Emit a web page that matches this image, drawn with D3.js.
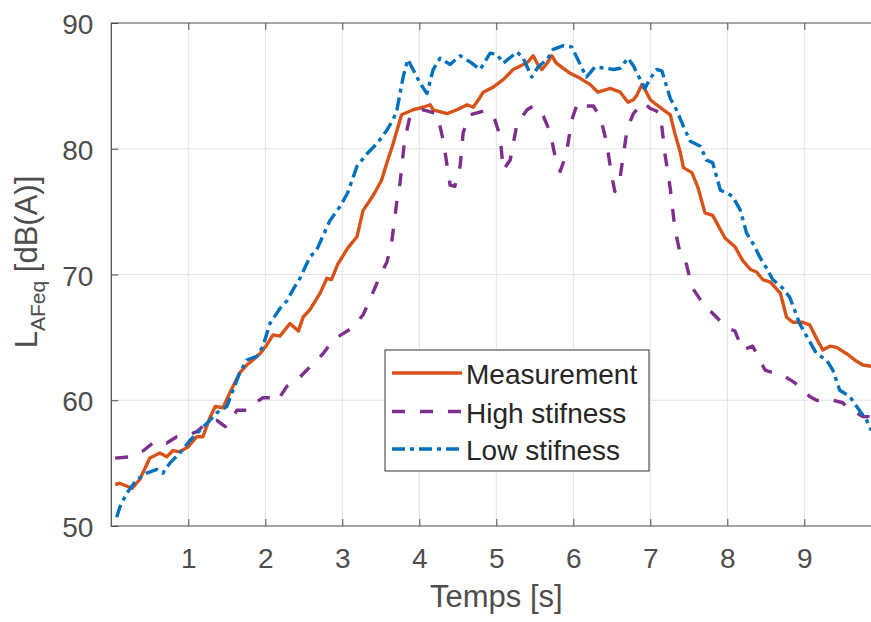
<!DOCTYPE html>
<html>
<head>
<meta charset="utf-8">
<script src="https://cdn.jsdelivr.net/npm/d3@7"></script>
<style>
  body { margin: 0; background: #fff; }
  svg { display: block; font-family: "Liberation Sans", Arial, Helvetica, sans-serif; }
</style>
</head>
<body>
<svg width="871" height="622"></svg>
<script>
// [time s, level dB(A)]
const measurement = [[0.05,53.3],[0.11,53.4],[0.27,53.0],[0.37,53.7],[0.50,55.4],[0.63,55.8],[0.72,55.5],[0.80,56.0],[0.89,55.9],[1.00,56.3],[1.11,57.1],[1.19,57.1],[1.28,58.6],[1.35,59.5],[1.45,59.4],[1.54,60.6],[1.67,62.2],[1.76,62.8],[1.84,63.2],[1.93,63.7],[2.02,64.4],[2.10,65.2],[2.19,65.1],[2.32,66.1],[2.43,65.5],[2.49,66.6],[2.58,67.2],[2.71,68.5],[2.80,69.7],[2.86,69.6],[2.94,70.8],[3.07,72.1],[3.19,73.0],[3.27,75.1],[3.36,75.9],[3.43,76.6],[3.51,77.5],[3.58,78.9],[3.65,80.2],[3.77,82.7],[3.92,83.1],[4.05,83.3],[4.14,83.5],[4.18,83.1],[4.36,82.8],[4.49,83.1],[4.62,83.5],[4.70,83.3],[4.79,84.1],[4.83,84.5],[4.96,84.9],[5.09,85.5],[5.22,86.3],[5.35,86.7],[5.41,86.9],[5.48,87.4],[5.53,86.8],[5.59,86.3],[5.66,86.8],[5.72,87.4],[5.78,86.8],[5.87,86.4],[5.96,86.0],[6.09,85.6],[6.22,85.1],[6.32,84.5],[6.48,84.8],[6.61,84.5],[6.71,83.7],[6.78,83.9],[6.82,84.2],[6.89,85.1],[6.95,84.5],[7.00,83.9],[7.08,83.5],[7.17,83.1],[7.26,82.7],[7.32,81.2],[7.39,79.7],[7.43,78.5],[7.54,78.1],[7.62,76.9],[7.71,74.9],[7.81,74.7],[7.97,72.9],[8.10,72.2],[8.20,71.1],[8.30,70.4],[8.38,70.2],[8.46,69.6],[8.56,69.4],[8.69,68.5],[8.77,66.6],[8.85,66.2],[8.98,66.2],[9.07,66.0],[9.16,64.9],[9.24,64.0],[9.33,64.3],[9.42,64.2],[9.55,63.7],[9.68,63.1],[9.76,62.8],[9.87,62.7]];

const highStiffness = [[0.05,55.4],[0.24,55.5],[0.42,56.0],[0.54,56.6],[0.63,56.8],[0.72,56.6],[0.85,57.1],[0.98,57.2],[1.11,57.5],[1.24,58.2],[1.37,58.4],[1.48,57.9],[1.56,58.4],[1.63,59.2],[1.76,59.2],[1.87,59.8],[1.97,60.2],[2.08,60.2],[2.15,59.9],[2.28,61.1],[2.41,61.6],[2.54,62.4],[2.67,63.2],[2.75,63.7],[2.88,64.8],[3.01,65.3],[3.14,65.8],[3.27,66.8],[3.36,68.0],[3.40,68.6],[3.49,69.9],[3.58,71.0],[3.64,72.5],[3.71,75.9],[3.75,77.3],[3.81,80.7],[3.88,82.6],[4.05,83.1],[4.23,82.8],[4.31,80.7],[4.37,78.3],[4.40,77.1],[4.46,77.0],[4.53,78.6],[4.57,81.3],[4.66,82.7],[4.83,83.0],[4.96,82.7],[5.05,81.0],[5.09,78.3],[5.18,79.1],[5.27,82.0],[5.40,83.1],[5.48,83.4],[5.61,82.6],[5.70,81.3],[5.78,78.9],[5.83,78.2],[5.91,79.6],[5.98,82.3],[6.06,83.7],[6.13,83.4],[6.26,83.4],[6.35,82.5],[6.43,80.6],[6.50,77.8],[6.54,76.6],[6.61,77.8],[6.70,81.6],[6.78,82.8],[6.91,83.7],[7.00,83.2],[7.08,83.0],[7.13,82.8],[7.17,80.7],[7.19,79.6],[7.26,76.8],[7.32,73.6],[7.39,71.6],[7.47,70.8],[7.54,69.0],[7.65,68.0],[7.68,67.7],[7.86,66.6],[7.99,65.8],[8.10,65.5],[8.20,64.0],[8.33,64.3],[8.38,63.7],[8.49,62.4],[8.59,62.2],[8.72,62.0],[8.85,61.5],[8.94,61.1],[9.07,60.3],[9.16,60.0],[9.29,59.9],[9.37,60.0],[9.50,59.8],[9.59,59.2],[9.68,59.0],[9.76,58.7],[9.87,58.7]];

const lowStiffness = [[0.07,50.7],[0.11,51.5],[0.20,52.6],[0.33,53.7],[0.46,54.2],[0.59,54.5],[0.67,54.2],[0.76,55.0],[0.89,55.8],[1.02,56.8],[1.15,57.6],[1.28,58.4],[1.37,59.0],[1.50,59.5],[1.58,60.8],[1.67,62.2],[1.76,63.2],[1.89,63.5],[1.97,64.3],[2.06,66.1],[2.19,67.3],[2.28,67.9],[2.36,68.8],[2.45,69.7],[2.58,71.4],[2.67,72.0],[2.84,74.3],[2.97,75.4],[3.07,76.5],[3.19,78.6],[3.32,79.6],[3.45,80.4],[3.58,81.5],[3.66,82.3],[3.71,83.1],[3.79,85.7],[3.85,87.1],[3.92,86.3],[4.01,85.2],[4.10,84.4],[4.18,86.3],[4.27,87.2],[4.40,86.7],[4.53,87.4],[4.66,86.9],[4.79,86.3],[4.92,87.6],[5.01,87.5],[5.09,86.8],[5.27,87.7],[5.35,87.2],[5.46,85.7],[5.54,86.5],[5.66,87.1],[5.74,87.9],[5.87,88.2],[5.98,88.1],[6.09,86.7],[6.17,85.7],[6.28,86.5],[6.43,86.4],[6.52,86.3],[6.61,86.4],[6.71,87.2],[6.78,86.6],[6.87,85.5],[6.93,84.8],[7.00,85.6],[7.08,86.3],[7.15,86.2],[7.21,85.0],[7.26,84.0],[7.34,83.1],[7.45,81.5],[7.52,80.6],[7.65,80.2],[7.73,79.1],[7.81,78.9],[7.91,76.7],[7.99,76.5],[8.07,76.2],[8.17,75.1],[8.25,73.3],[8.33,72.5],[8.43,71.3],[8.51,70.5],[8.59,69.6],[8.72,68.9],[8.81,68.2],[8.94,66.1],[9.03,65.1],[9.16,63.7],[9.29,63.2],[9.37,62.4],[9.46,60.8],[9.59,60.3],[9.68,59.5],[9.81,58.4],[9.87,57.6]];

const xTicks = [1, 2, 3, 4, 5, 6, 7, 8, 9];
const yTicks = [50, 60, 70, 80, 90];
const legendLabels = ['Measurement', 'High stifness', 'Low stifness'];

const svg = d3.select('svg');
const plotLeft = 111.3, plotTop = 23, plotBottom = 526, plotRight = 881.3;
const axisColor = '#4d4d4d';
const textColor = '#4d4d4d';

const x = d3.scaleLinear().domain([0, 10]).range([plotLeft, plotRight]);
const y = d3.scaleLinear().domain([50, 90]).range([plotBottom, plotTop]);

const series = [
  { name: legendLabels[0], data: measurement, color: '#D95319', dash: null },
  { name: legendLabels[1], data: highStiffness, color: '#7E2F8E', dash: '13,15' },
  { name: legendLabels[2], data: lowStiffness, color: '#0072BD', dash: '13,5,4,5' }
];

svg.append('defs').append('clipPath').attr('id', 'plot')
  .append('rect').attr('x', plotLeft).attr('y', plotTop)
  .attr('width', plotRight - plotLeft).attr('height', plotBottom - plotTop);

// grid
const grid = svg.append('g').attr('stroke', '#e3e3e3').attr('stroke-width', 1);
grid.selectAll('.vx').data(xTicks).enter().append('line')
  .attr('x1', d => x(d)).attr('x2', d => x(d))
  .attr('y1', plotTop).attr('y2', plotBottom);
grid.selectAll('.hy').data(yTicks.slice(1, -1)).enter().append('line')
  .attr('x1', plotLeft).attr('x2', plotRight)
  .attr('y1', d => y(d)).attr('y2', d => y(d));

// axes: ticks pointing inward
const xAxisB = d3.axisBottom(x).tickValues(xTicks).tickSize(-7).tickPadding(22).tickFormat(d3.format('d'));
const xAxisT = d3.axisTop(x).tickValues(xTicks).tickSize(-7).tickFormat('');
const yAxisL = d3.axisLeft(y).tickValues(yTicks).tickSize(-7).tickPadding(18).tickFormat(d3.format('d'));

function styleAxis(g) {
  g.select('.domain').remove();
  g.selectAll('line').attr('stroke', axisColor);
  g.selectAll('text').attr('fill', textColor).style('font-size', '28px');
}

svg.append('g').attr('transform', `translate(0,${plotBottom})`).call(xAxisB).call(styleAxis);
svg.append('g').attr('transform', `translate(0,${plotTop})`).call(xAxisT).call(styleAxis);
svg.append('g').attr('transform', `translate(${plotLeft},0)`).call(yAxisL).call(styleAxis)
  .selectAll('text').attr('dy', '0.38em');

// frame
svg.append('path')
  .attr('d', `M${plotRight},${plotTop}H${plotLeft}V${plotBottom}H${plotRight}`)
  .attr('fill', 'none').attr('stroke', axisColor).attr('stroke-width', 1.2);

// lines
const line = d3.line().x(d => x(d[0])).y(d => y(d[1]));
const lines = svg.append('g').attr('clip-path', 'url(#plot)');
series.forEach(s => {
  lines.append('path')
    .datum(s.data)
    .attr('d', line)
    .attr('fill', 'none')
    .attr('stroke', s.color)
    .attr('stroke-width', 3.4)
    .attr('stroke-linejoin', 'round')
    .attr('stroke-dasharray', s.dash);
});

// axis labels
svg.append('text')
  .attr('x', x(5)).attr('y', 607)
  .attr('text-anchor', 'middle')
  .attr('fill', textColor)
  .style('font-size', '31px')
  .text('Temps [s]');

const yl = svg.append('text')
  .attr('transform', 'translate(37,262) rotate(-90)')
  .attr('text-anchor', 'middle')
  .attr('fill', textColor)
  .style('font-size', '31px');
yl.append('tspan').text('L');
yl.append('tspan').attr('dy', 8).style('font-size', '21px').text('AFeq');
yl.append('tspan').attr('dy', -8).text(' [dB(A)]');

// legend
const legend = svg.append('g');
legend.append('rect')
  .attr('x', 385).attr('y', 350).attr('width', 264).attr('height', 121)
  .attr('fill', '#fff').attr('stroke', '#333').attr('stroke-width', 1);

const rowY = [373, 411.5, 449];
series.forEach((s, i) => {
  legend.append('line')
    .attr('x1', 392).attr('x2', 462)
    .attr('y1', rowY[i]).attr('y2', rowY[i])
    .attr('stroke', s.color).attr('stroke-width', 3.4)
    .attr('stroke-dasharray', s.dash);
  legend.append('text')
    .attr('x', 466).attr('y', rowY[i] + 11)
    .attr('fill', '#262626')
    .style('font-size', '28px')
    .text(s.name);
});
</script>
</body>
</html>
